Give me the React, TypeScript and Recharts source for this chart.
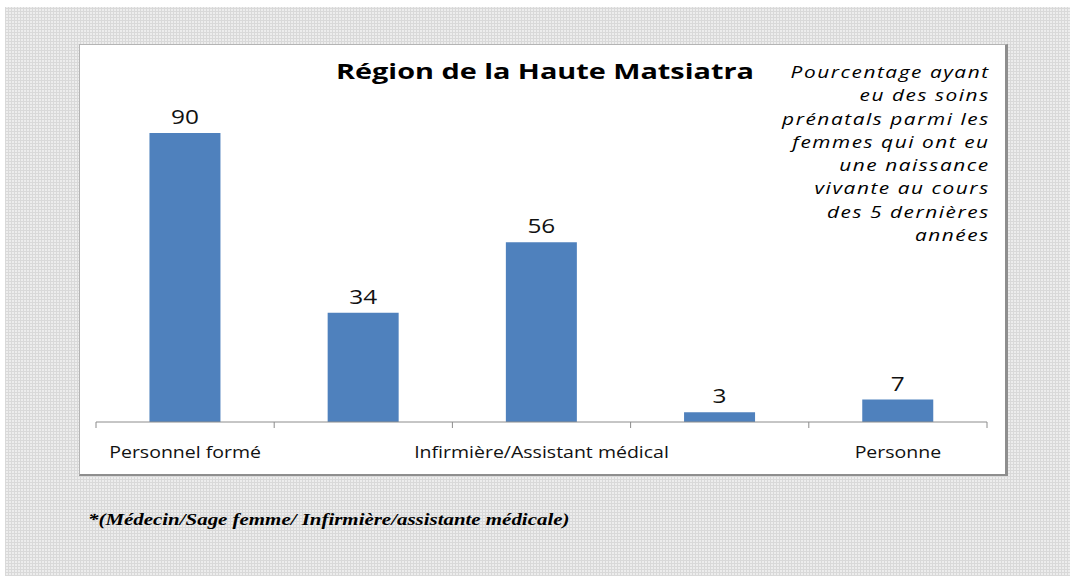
import { BarChart, Bar, XAxis, YAxis, LabelList } from "recharts";

const categories = [
  "Personnel formé",
  "Médecin",
  "Infirmière/Assistant médical",
  "Accoucheuse traditionnelle",
  "Personne",
];
const values = [90, 34, 56, 3, 7];
const shownLabels = [true, false, true, false, true];

const title = "Région de la Haute Matsiatra";
const noteLines = [
  "Pourcentage ayant",
  "eu des soins",
  "prénatals parmi les",
  "femmes qui ont eu",
  "une naissance",
  "vivante au cours",
  "des 5 dernières",
  "années",
];
const footnote = "*(Médecin/Sage femme/ Infirmière/assistante médicale)";

const data = categories.map((name, i) => ({ name, value: values[i] }));

const CHART_W = 926;
const CHART_H = 430;
const M_LEFT = 17;
const M_RIGHT = 18;
const BAND = (CHART_W - M_LEFT - M_RIGHT) / categories.length;
const FONT = "'Open Sans', 'Liberation Sans', sans-serif";
// the reference looks stretched sideways, so text is widened a bit
const STRETCH = 1.22;

function CategoryTick(props: any) {
  const { x, y, index, payload } = props;
  const half = BAND / 2;
  return (
    <g>
      <line x1={x - half} x2={x - half} y1={y} y2={y + 6} stroke="#8c8c8c" />
      {index === categories.length - 1 && (
        <line x1={x + half} x2={x + half} y1={y} y2={y + 6} stroke="#8c8c8c" />
      )}
      {shownLabels[index] && (
        <text
          transform={`translate(${x},${y + 36}) scale(${STRETCH},1)`}
          textAnchor="middle"
          fontSize={16}
          fill="#111"
          fontFamily={FONT}
        >
          {payload.value}
        </text>
      )}
    </g>
  );
}

function ValueLabel(props: any) {
  const { x, y, width, value } = props;
  return (
    <text
      transform={`translate(${x + width / 2},${y - 9}) scale(${STRETCH},1)`}
      textAnchor="middle"
      fontSize={20}
      fill="#111"
      fontFamily={FONT}
    >
      {value}
    </text>
  );
}

export default function App() {
  const grid =
    "repeating-linear-gradient(0deg, #d9d9d9 0 1px, transparent 1px 3px), repeating-linear-gradient(90deg, #d9d9d9 0 1px, transparent 1px 3px)";
  return (
    <div style={{ position: "fixed", left: 0, top: 0, width: 1070, height: 576, background: "#fff", overflow: "hidden" }}>
      <div
        style={{
          position: "absolute",
          left: 5,
          top: 7,
          width: 1065,
          height: 569,
          backgroundColor: "#ededed",
          backgroundImage: grid,
        }}
      />
      <div
        style={{
          position: "absolute",
          left: 79,
          top: 44,
          width: CHART_W + 3,
          height: CHART_H + 2,
          boxSizing: "border-box",
          background: "#fff",
          borderLeft: "1px solid #b4b4b4",
          borderTop: "1px solid #b4b4b4",
          borderRight: "3px solid #8e8e8e",
          borderBottom: "2px solid #8e8e8e",
        }}
      />
      <div style={{ position: "absolute", left: 79, top: 44 }}>
        <BarChart
          width={CHART_W}
          height={CHART_H}
          data={data}
          margin={{ top: 57, right: M_RIGHT, bottom: 0, left: M_LEFT }}
          barCategoryGap="30%"
        >
          <XAxis
            dataKey="name"
            interval={0}
            height={52}
            tickLine={false}
            tickSize={0}
            tickMargin={0}
            axisLine={{ stroke: "#8c8c8c" }}
            tick={<CategoryTick />}
          />
          <YAxis hide domain={[0, 100]} />
          <Bar dataKey="value" fill="#4f81bd" isAnimationActive={false}>
            <LabelList dataKey="value" content={<ValueLabel />} />
          </Bar>
        </BarChart>
      </div>
      <div
        style={{
          position: "absolute",
          left: 336,
          top: 55,
          fontFamily: FONT,
          fontWeight: 700,
          fontSize: 22,
          color: "#000",
          whiteSpace: "nowrap",
          transform: "scaleX(1.31)",
          transformOrigin: "left top",
        }}
      >
        {title}
      </div>
      <div
        style={{
          position: "absolute",
          right: 1070 - 990,
          top: 61,
          textAlign: "right",
          fontFamily: FONT,
          fontStyle: "italic",
          fontSize: 16,
          letterSpacing: 1.2,
          lineHeight: "23.3px",
          color: "#000",
          transform: "scaleX(1.3)",
          transformOrigin: "right top",
        }}
      >
        {noteLines.map((l) => (
          <div key={l}>{l}</div>
        ))}
      </div>
      <div
        style={{
          position: "absolute",
          left: 88,
          top: 510,
          fontFamily: "'Liberation Serif', 'DejaVu Serif', serif",
          fontWeight: 700,
          fontStyle: "italic",
          fontSize: 17,
          color: "#000",
          whiteSpace: "nowrap",
          transform: "scaleX(1.23)",
          transformOrigin: "left top",
        }}
      >
        {footnote}
      </div>
    </div>
  );
}
